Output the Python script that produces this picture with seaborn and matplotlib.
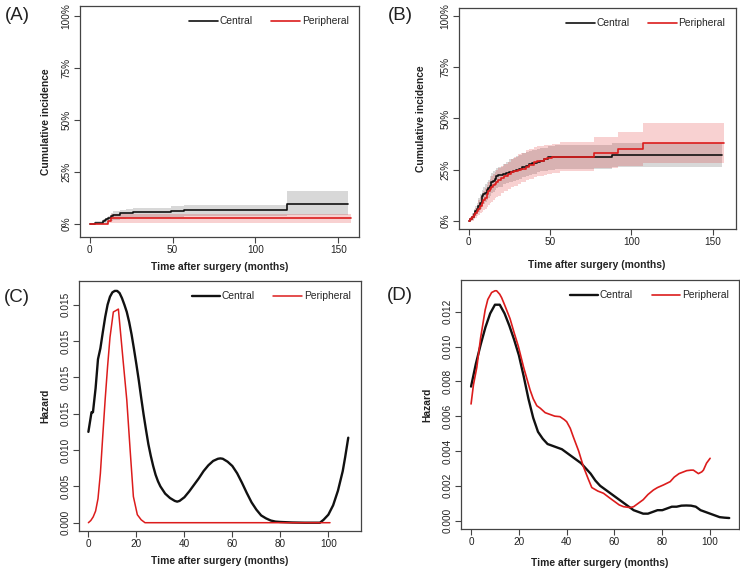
import numpy as np
import pandas as pd
import matplotlib
matplotlib.use("Agg")
import matplotlib.pyplot as plt
import seaborn as sns

# ---- (A) cumulative incidence, step data ----
a_cen_t = [0, 3, 8, 9, 10, 11, 13, 14, 18, 22, 26, 49, 57, 119, 156]
a_cen_y = [0, 0.006, 0.012, 0.017, 0.022, 0.028, 0.037, 0.043, 0.050, 0.054, 0.058, 0.064, 0.068, 0.095, 0.095]
a_cen_up = [0, 0.012, 0.022, 0.026, 0.030, 0.040, 0.050, 0.060, 0.068, 0.073, 0.078, 0.085, 0.090, 0.160, 0.160]
a_cen_lo = [0, 0.0, 0.003, 0.004, 0.006, 0.010, 0.015, 0.020, 0.024, 0.027, 0.030, 0.033, 0.036, 0.042, 0.042]
a_per_t = [0, 10, 11, 13, 158]
a_per_y = [0, 0, 0.012, 0.026, 0.026]
a_per_up = [0, 0.004, 0.025, 0.046, 0.046]
a_per_lo = [0, 0, 0.002, 0.005, 0.005]

# ---- (B) cumulative incidence, step data ----
b_cen_t = [0, 1, 2, 3, 4, 5, 6, 7, 8, 9, 10, 11, 12, 13, 14, 15, 16, 17, 18, 21, 23, 25,
           27, 29, 31, 33, 35, 37, 39, 42, 44, 46, 49, 53, 88, 156]
b_cen_y = [0, 0.01, 0.02, 0.035, 0.05, 0.06, 0.075, 0.09, 0.12, 0.13, 0.135, 0.15, 0.16, 0.17,
           0.19, 0.195, 0.205, 0.22, 0.225, 0.23, 0.235, 0.24, 0.245, 0.25, 0.255, 0.265, 0.27,
           0.28, 0.285, 0.29, 0.295, 0.30, 0.31, 0.314, 0.322, 0.322]
b_cen_up = [0, 0.02, 0.04, 0.058, 0.075, 0.09, 0.11, 0.13, 0.15, 0.165, 0.18, 0.19, 0.20, 0.22,
            0.235, 0.245, 0.25, 0.26, 0.265, 0.28, 0.29, 0.30, 0.305, 0.315, 0.32, 0.33, 0.335,
            0.34, 0.345, 0.35, 0.355, 0.358, 0.365, 0.37, 0.38, 0.38]
b_cen_lo = [0, 0.0, 0.005, 0.015, 0.025, 0.035, 0.045, 0.06, 0.075, 0.085, 0.095, 0.10, 0.11,
            0.12, 0.135, 0.14, 0.15, 0.16, 0.165, 0.18, 0.185, 0.19, 0.195, 0.20, 0.205, 0.215,
            0.22, 0.225, 0.23, 0.24, 0.245, 0.245, 0.25, 0.255, 0.265, 0.265]
b_per_t = [0, 1, 2, 3, 4, 5, 6, 7, 8, 9, 10, 11, 12, 13, 14, 15, 16, 17, 18, 20, 22, 24, 26,
           28, 30, 32, 35, 37, 40, 42, 46, 48, 51, 56, 77, 92, 107, 157]
b_per_y = [0, 0.01, 0.02, 0.03, 0.04, 0.05, 0.06, 0.075, 0.09, 0.10, 0.11, 0.13, 0.145, 0.155,
           0.165, 0.175, 0.18, 0.19, 0.20, 0.21, 0.22, 0.23, 0.24, 0.245, 0.25, 0.255, 0.265,
           0.275, 0.29, 0.295, 0.30, 0.305, 0.31, 0.314, 0.33, 0.351, 0.379, 0.379]
b_per_up = [0, 0.02, 0.035, 0.05, 0.065, 0.08, 0.10, 0.115, 0.13, 0.145, 0.16, 0.175, 0.19,
            0.205, 0.22, 0.23, 0.24, 0.25, 0.26, 0.27, 0.28, 0.29, 0.30, 0.31, 0.325, 0.33,
            0.345, 0.35, 0.36, 0.365, 0.37, 0.372, 0.375, 0.385, 0.41, 0.436, 0.477, 0.477]
b_per_lo = [0, 0, 0, 0.008, 0.015, 0.022, 0.03, 0.038, 0.045, 0.052, 0.06, 0.07, 0.08, 0.088,
            0.095, 0.10, 0.11, 0.115, 0.12, 0.135, 0.145, 0.155, 0.165, 0.17, 0.18, 0.19, 0.20,
            0.205, 0.215, 0.22, 0.225, 0.23, 0.235, 0.245, 0.26, 0.27, 0.285, 0.285]

# ---- (C) hazard ----
c_cen_t = [0, 1.3, 1.9, 2.5, 3, 4, 5, 6, 7, 8, 9, 10, 11, 12, 13, 14, 15, 16, 17, 18, 19, 20,
           21, 22, 23, 24, 25, 26, 27, 28, 29, 30, 32, 34, 36, 37, 38, 40, 42, 44, 46, 48, 50,
           52, 54, 55, 56, 58, 60, 62, 64, 66, 68, 70, 72, 74, 76, 78, 80, 85, 90, 96.5, 98,
           100, 102, 104, 106, 107, 108.3]
c_cen_h = [0.0125, 0.0152, 0.0152, 0.0170, 0.0185, 0.0225, 0.0240, 0.0262, 0.0283, 0.0300,
           0.0311, 0.0317, 0.0319, 0.0319, 0.0316, 0.0309, 0.0300, 0.0290, 0.0276, 0.0259,
           0.0239, 0.0218, 0.0196, 0.0172, 0.0149, 0.0128, 0.0108, 0.0092, 0.0078, 0.0066,
           0.0057, 0.0050, 0.0040, 0.0034, 0.0030, 0.0029, 0.0030, 0.0035, 0.0043, 0.0052,
           0.0061, 0.0071, 0.0079, 0.0085, 0.0088, 0.00885, 0.0088, 0.0084, 0.0078, 0.0068,
           0.0055, 0.0041, 0.0028, 0.0018, 0.0010, 0.0006, 0.0003, 0.00015, 0.0001, 0.00003,
           0.0, 0.0, 0.0004, 0.0011, 0.0024, 0.0044, 0.0071, 0.0090, 0.0117]
c_per_t = [0, 1, 2, 3, 4, 5, 6, 7, 8, 9, 10.4, 11.5, 12.5, 13.5, 14.5, 16, 17.4, 18.75, 20.4,
           22, 23.6, 100.7]
c_per_h = [0, 0.0003, 0.0008, 0.0016, 0.0033, 0.0068, 0.0120, 0.0170, 0.0215, 0.0255, 0.0290,
           0.0292, 0.0294, 0.0258, 0.0222, 0.0169, 0.0100, 0.0036, 0.0011, 0.0004, 0.0, 0.0]
c_ticks = [0, 0.005, 0.010, 0.015, 0.020, 0.025, 0.030]
c_tick_labels = ["0.000", "0.005", "0.010", "0.015", "0.015", "0.015", "0.015"]

# ---- (D) hazard ----
d_cen_t = [0, 2, 4, 6, 8, 10, 12, 14, 16, 18, 20, 22, 24, 26, 28, 30, 32, 34, 36, 38, 40, 42,
           44, 46, 48, 50, 52, 54, 56, 58, 60, 62, 64, 66, 68, 70, 72, 74, 76, 78, 80, 82, 84,
           86, 88, 90, 92, 94, 96, 98, 100, 102, 104, 106, 108]
d_cen_h = [0.0077, 0.0090, 0.0101, 0.0111, 0.0119, 0.0124, 0.0124, 0.0119, 0.0112, 0.0104,
           0.0095, 0.0083, 0.0070, 0.0059, 0.0051, 0.0047, 0.0044, 0.0043, 0.0042, 0.0041,
           0.0039, 0.0037, 0.0035, 0.0033, 0.0030, 0.0027, 0.0023, 0.0020, 0.0018, 0.0016,
           0.0014, 0.0012, 0.0010, 0.0008, 0.0006, 0.0005, 0.0004, 0.0004, 0.0005, 0.0006,
           0.0006, 0.0007, 0.0008, 0.0008, 0.00086, 0.00087, 0.00086, 0.0008, 0.0006, 0.0005,
           0.0004, 0.0003, 0.0002, 0.00017, 0.00015]
d_per_t = [0, 1, 2.4, 4, 5.9, 7, 8.6, 10, 10.7, 12, 12.8, 14, 16.3, 18, 19.8, 22, 24.7, 26,
           27.5, 29, 31, 33, 35, 37.2, 39, 40, 41.5, 42.8, 45, 47, 49, 50.5, 53, 55.4, 58, 60,
           62, 63.8, 66.5, 68, 70, 72, 74, 76.3, 78, 80.5, 83.3, 85, 87, 90.2, 92, 93, 95.1,
           96.5, 97.2, 98.5, 100]
d_per_h = [0.0067, 0.0078, 0.0088, 0.0105, 0.0121, 0.0127, 0.0131, 0.0132, 0.0132, 0.0130,
           0.0128, 0.0124, 0.0116, 0.0108, 0.0100, 0.0088, 0.0075, 0.0070, 0.0066, 0.00645,
           0.0062, 0.0061, 0.0060, 0.00597, 0.0058, 0.00568, 0.0053, 0.0048, 0.0040, 0.0031,
           0.0024, 0.0019, 0.0017, 0.00157, 0.0013, 0.0011, 0.0009, 0.0008, 0.00075, 0.0008,
           0.0010, 0.0012, 0.0015, 0.00176, 0.0019, 0.00205, 0.00224, 0.0025, 0.0027, 0.00287,
           0.0029, 0.0029, 0.0027, 0.0028, 0.0029, 0.0033, 0.00358]

RED = "#dc1c1c"
BLACK = "#111111"
XLABEL = "Time after surgery (months)"

sns.set_style("ticks")
plt.rcParams["font.family"] = ["Liberation Sans", "DejaVu Sans"]
plt.rcParams["axes.edgecolor"] = "#444444"
plt.rcParams["xtick.color"] = "#444444"
plt.rcParams["ytick.color"] = "#444444"
plt.rcParams["xtick.labelcolor"] = "#222222"
plt.rcParams["ytick.labelcolor"] = "#222222"

fig = plt.figure(figsize=(7.4, 5.72), dpi=100)
axA = fig.add_axes([0.108, 0.586, 0.377, 0.4035])
axB = fig.add_axes([0.620, 0.5997, 0.374, 0.3863])
axC = fig.add_axes([0.1068, 0.0717, 0.381, 0.437])
axD = fig.add_axes([0.623, 0.0752, 0.3757, 0.4353])


def style_axes(ax, ylabel, xlab_y, ylab_x):
    ax.set_xlabel(XLABEL, fontsize=7.4, fontweight="bold", color="#222222")
    ax.set_ylabel(ylabel, fontsize=7.4, fontweight="bold", color="#222222")
    ax.xaxis.set_label_coords(0.5, xlab_y)
    ax.yaxis.set_label_coords(ylab_x, 0.5)
    ax.tick_params(axis="both", labelsize=7.2, length=4, width=0.8, pad=2)
    for lab in ax.get_yticklabels():
        lab.set_rotation(90)
        lab.set_va("center")
    for s in ax.spines.values():
        s.set_linewidth(0.9)
    ax.legend(ncol=2, frameon=False, loc="upper right", fontsize=7.4,
              handlelength=2.8, handletextpad=0.15, columnspacing=1.8,
              bbox_to_anchor=(1.0, 1.0), borderaxespad=0.6)


def cum_panel(ax, cen_t, cen_y, cen_lo, cen_up, per_t, per_y, per_lo, per_up):
    ax.fill_between(cen_t, cen_lo, cen_up, step="post", color="#bebebe",
                    alpha=0.6, linewidth=0)
    ax.fill_between(per_t, per_lo, per_up, step="post", color=RED,
                    alpha=0.2, linewidth=0)
    sns.lineplot(x=cen_t, y=cen_y, ax=ax, color=BLACK, lw=1.2,
                 drawstyle="steps-post", label="Central")
    sns.lineplot(x=per_t, y=per_y, ax=ax, color=RED, lw=1.2,
                 drawstyle="steps-post", label="Peripheral")
    ax.set_yticks([0, 0.25, 0.5, 0.75, 1.0])
    ax.set_yticklabels(["0%", "25%", "50%", "75%", "100%"])
    ax.set_xticks([0, 50, 100, 150])


# (A)
cum_panel(axA, a_cen_t, a_cen_y, a_cen_lo, a_cen_up, a_per_t, a_per_y, a_per_lo, a_per_up)
axA.set_xlim(-6.0, 162.5)
axA.set_ylim(-0.0625, 1.048)
style_axes(axA, "Cumulative incidence", -0.108, -0.102)

# (B)
cum_panel(axB, b_cen_t, b_cen_y, b_cen_lo, b_cen_up, b_per_t, b_per_y, b_per_lo, b_per_up)
axB.set_xlim(-6.1, 164.1)
axB.set_ylim(-0.039, 1.039)
style_axes(axB, "Cumulative incidence", -0.14, -0.117)

# (C)
sns.lineplot(x=c_cen_t, y=c_cen_h, ax=axC, color=BLACK, lw=1.7, label="Central")
sns.lineplot(x=c_per_t, y=c_per_h, ax=axC, color=RED, lw=1.1, label="Peripheral")
axC.set_xlim(-3.9, 113.6)
axC.set_ylim(-0.00114, 0.03326)
axC.set_xticks([0, 20, 40, 60, 80, 100])
axC.set_yticks(c_ticks)
axC.set_yticklabels(c_tick_labels)
style_axes(axC, "Hazard", -0.10, -0.101)

# (D)
sns.lineplot(x=d_cen_t, y=d_cen_h, ax=axD, color=BLACK, lw=1.7, label="Central")
sns.lineplot(x=d_per_t, y=d_per_h, ax=axD, color=RED, lw=1.2, label="Peripheral")
axD.set_xlim(-4.2, 112.1)
axD.set_ylim(-0.00048, 0.01382)
axD.set_xticks([0, 20, 40, 60, 80, 100])
axD.set_yticks([0, 0.002, 0.004, 0.006, 0.008, 0.010, 0.012])
axD.set_yticklabels(["0.000", "0.002", "0.004", "0.006", "0.008", "0.010", "0.012"])
style_axes(axD, "Hazard", -0.116, -0.1025)

# panel letters
for txt, x, y in [("(A)", 17, 15), ("(B)", 400, 15), ("(C)", 17, 298), ("(D)", 400, 295)]:
    fig.text(x / 740, 1 - y / 572, txt, fontsize=13.5, ha="center", va="center",
             color="#222222")

fig.savefig("out.png", dpi=100)
